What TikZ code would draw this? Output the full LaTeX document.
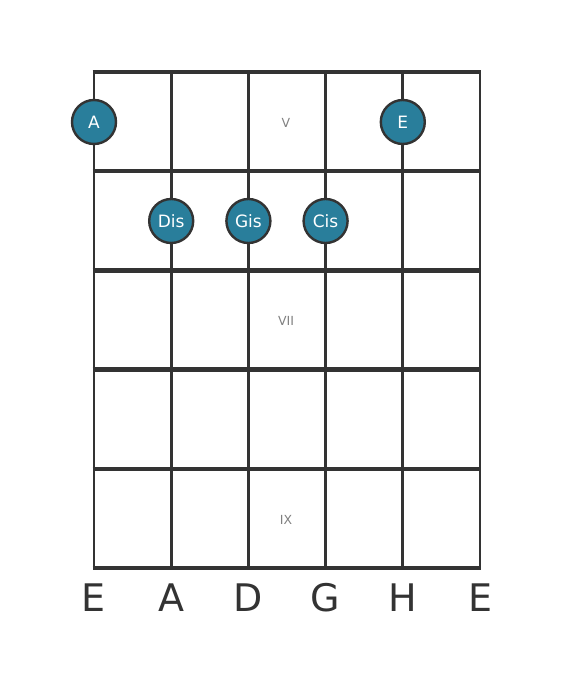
\documentclass[tikz,border=0pt]{standalone}
\usepackage{fontspec}
\setmainfont{DejaVu Sans}
\usepackage{xcolor}
\definecolor{notefill}{HTML}{297E9B}
\definecolor{grid}{HTML}{333333}
\tikzset{
	note/.style={
			circle, draw=grid, line width=2.4pt, fill=notefill,
			minimum size=44pt, inner sep=0pt, text=white,
			font=\fontsize{17}{17}\selectfont
		},
	fret/.style={draw=grid, line width=4.4pt},
	string/.style={draw=grid, line width=2.8pt},
	fretnum/.style={text=gray, font=\fontsize{12.5}{12.5}\selectfont},
	stringname/.style={text=grid, font=\fontsize{38}{38}\selectfont}
}

\begin{document}
\begin{tikzpicture}[x=1pt,y=-1pt]
	\useasboundingbox (0,0) rectangle (560,682);

	\foreach \s/\x in {1/94,2/171.2,3/248.4,4/325.6,5/402.8,6/480} {
			\coordinate (t\s) at (\x,72);
			\coordinate (b\s) at (\x,568);
			\draw[string] (t\s) -- (b\s);
		}
	\foreach \f/\y in {0/72,1/171.2,2/270.4,3/369.6,4/468.8,5/568} {
			\coordinate (l\f) at (94,\y);
			\coordinate (r\f) at (480,\y);
			\draw[fret] ([xshift=-1.4pt]l\f) -- ([xshift=1.4pt]r\f);
		}

	\node[fretnum] (v) at (286,123) {V};
	\node[fretnum] (vii) at (286,321) {VII};
	\node[fretnum] (ix) at (286,520) {IX};

	\node[note] (a) at (94,122) {A};
	\node[note] (e) at (402.8,122) {E};
	\node[note] (dis) at (171.2,221) {Dis};
	\node[note] (gis) at (248.4,221) {Gis};
	\node[note] (cis) at (325.6,221) {Cis};

	\foreach \s/\name in {1/E,2/A,3/D,4/G,5/H,6/E}
		\node[stringname] (n\s) at ([yshift=-30pt]b\s) {\name};

\end{tikzpicture}
\end{document}
